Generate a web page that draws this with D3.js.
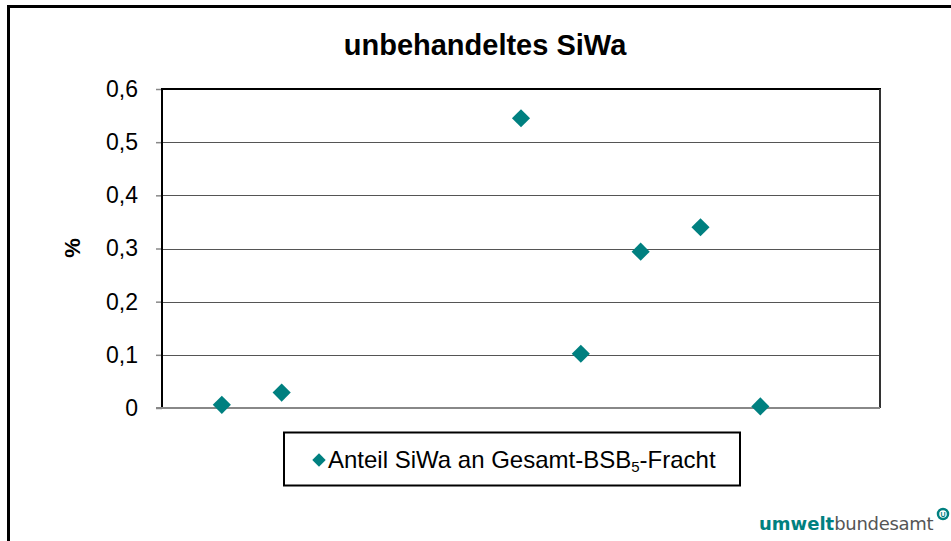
<!DOCTYPE html>
<html>
<head>
<meta charset="utf-8">
<script src="https://cdn.jsdelivr.net/npm/d3@7"></script>
<style>
  body { margin: 0; background: #fff; }
  text { font-family: "Liberation Sans", Arial, sans-serif; }
</style>
</head>
<body>
<div id="chart"></div>
<script>
// data
const xPositions = [1, 2, 6, 7, 8, 9, 10]
const shares = [0.006, 0.029, 0.545, 0.102, 0.294, 0.340, 0.003]
const yTicks = [0, 0.1, 0.2, 0.3, 0.4, 0.5, 0.6]
const seriesName = "Anteil SiWa an Gesamt-BSB"

const WIDTH = 951
const HEIGHT = 541
const TEAL = "#008080"

const svg = d3.select("#chart")
    .append("svg")
    .attr("width", WIDTH)
    .attr("height", HEIGHT)

// outer frame
svg.append("rect")
    .attr("x", 8.5)
    .attr("y", 6.5)
    .attr("width", 1000)
    .attr("height", 600)
    .attr("fill", "none")
    .attr("stroke", "#000")
    .attr("stroke-width", 3)

let x = d3.scaleLinear().domain([0, 12]).range([162, 880])
let y = d3.scaleLinear().domain([0, 0.6]).range([408, 89])

// gridlines
svg.append("g")
    .selectAll("line")
    .data(yTicks.filter(t => t > 0 && t < 0.6))
    .join("line")
        .attr("x1", x(0))
        .attr("x2", x(12))
        .attr("y1", d => Math.round(y(d)) + 0.5)
        .attr("y2", d => Math.round(y(d)) + 0.5)
        .attr("stroke", "#555")
        .attr("stroke-width", 1)

// y axis with ticks
let yAxis = d3.axisLeft(y)
    .tickValues(yTicks)
    .tickSize(6)
    .tickPadding(18)
    .tickFormat(d => d === 0 ? "0" : d3.format(".1f")(d).replace(".", ","))

let gy = svg.append("g")
    .attr("transform", `translate(${x(0)},0)`)
    .call(yAxis)
gy.select(".domain").remove()
gy.selectAll(".tick line").attr("stroke", "#888").attr("stroke-width", 1.5)
gy.selectAll(".tick text")
    .attr("font-size", 23)
    .attr("fill", "#000")

// plot frame
svg.append("line")
    .attr("x1", x(0)).attr("x2", x(0))
    .attr("y1", y(0.6)).attr("y2", y(0))
    .attr("stroke", "#000").attr("stroke-width", 2)
svg.append("line")
    .attr("x1", x(0) - 1).attr("x2", x(12) + 1)
    .attr("y1", y(0.6)).attr("y2", y(0.6))
    .attr("stroke", "#000").attr("stroke-width", 2)
svg.append("line")
    .attr("x1", x(12)).attr("x2", x(12))
    .attr("y1", y(0.6)).attr("y2", y(0))
    .attr("stroke", "#333").attr("stroke-width", 2)
svg.append("line")
    .attr("x1", x(0) - 6).attr("x2", x(12))
    .attr("y1", y(0)).attr("y2", y(0))
    .attr("stroke", "#888").attr("stroke-width", 2)

// points
let diamond = d3.symbol().type(d3.symbolDiamond2).size(210)
svg.append("g")
    .selectAll("path")
    .data(xPositions.map((p, i) => ({ x: p, v: shares[i] })))
    .join("path")
        .attr("d", diamond)
        .attr("transform", d => `translate(${x(d.x)},${y(d.v)})`)
        .attr("fill", TEAL)

// title
svg.append("text")
    .attr("x", 485)
    .attr("y", 55)
    .attr("text-anchor", "middle")
    .attr("font-size", 29)
    .attr("font-weight", "bold")
    .text("unbehandeltes SiWa")

// y label
svg.append("text")
    .attr("transform", "translate(80,248) rotate(-90)")
    .attr("text-anchor", "middle")
    .attr("font-size", 22)
    .attr("font-weight", "bold")
    .text("%")

// legend
svg.append("rect")
    .attr("x", 284)
    .attr("y", 432.5)
    .attr("width", 456)
    .attr("height", 53)
    .attr("fill", "#fff")
    .attr("stroke", "#000")
    .attr("stroke-width", 2)
svg.append("path")
    .attr("d", d3.symbol().type(d3.symbolDiamond2).size(115))
    .attr("transform", "translate(319,460)")
    .attr("fill", TEAL)
let lt = svg.append("text")
    .attr("x", 328)
    .attr("y", 468)
    .attr("font-size", 24)
lt.append("tspan").text(seriesName)
lt.append("tspan").attr("font-size", 15).attr("dy", 4).text("5")
lt.append("tspan").attr("dy", -4).text("-Fracht")

// logo
let logo = svg.append("text")
    .attr("x", 759)
    .attr("y", 530)
    .style("font-family", "'DejaVu Sans', sans-serif")
    .attr("font-size", 18)
logo.append("tspan")
    .attr("fill", TEAL)
    .attr("font-weight", "bold")
    .text("umwelt")
logo.append("tspan")
    .attr("fill", "#555")
    .attr("letter-spacing", -0.3)
    .text("bundesamt")
svg.append("circle")
    .attr("cx", 943)
    .attr("cy", 514)
    .attr("r", 5)
    .attr("fill", "none")
    .attr("stroke", TEAL)
    .attr("stroke-width", 2.5)
svg.append("text")
    .attr("x", 943)
    .attr("y", 517)
    .attr("text-anchor", "middle")
    .attr("font-size", 7)
    .attr("font-weight", "bold")
    .attr("fill", TEAL)
    .text("U")
</script>
</body>
</html>
